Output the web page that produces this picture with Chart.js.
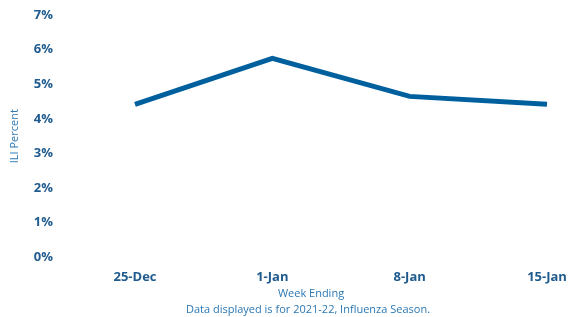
<!DOCTYPE html>
<html>
<head>
<meta charset="utf-8">
<script src="https://cdn.jsdelivr.net/npm/chart.js@4"></script>
<style>
  html, body { margin: 0; padding: 0; background: #fff; }
  #wrap { width: 569px; height: 317px; position: relative; }
</style>
</head>
<body>
<div id="wrap"><canvas id="chart"></canvas></div>
<script>
// ILI percent by week ending, 2021-22 season
const weeks = ['25-Dec', '1-Jan', '8-Jan', '15-Jan'];
const iliPercent = [4.42, 5.75, 4.65, 4.42];
const yTicks = [0, 1, 2, 3, 4, 5, 6, 7];
const xTitle = 'Week Ending';
const footnote = 'Data displayed is for 2021-22, Influenza Season.';

const tickColor = '#1f5b8f';
const titleColor = '#2b78b4';

// draws the x title and footnote under the axis
const bottomText = {
    id: 'bottomText',
    afterDraw(chart) {
        const ctx = chart.ctx;
        ctx.save();
        ctx.fillStyle = titleColor;
        ctx.font = '11px "Open Sans"';
        ctx.textAlign = 'center';
        ctx.textBaseline = 'middle';
        ctx.fillText(xTitle, 311, 294);
        ctx.fillText(footnote, 308, 310);
        ctx.restore();
    }
};

new Chart(document.getElementById('chart'), {
    type: 'line',
    data: {
        labels: weeks,
        datasets: [{
            label: 'ILI Percent',
            data: iliPercent,
            borderColor: '#00609e',
            borderWidth: 5,
            pointRadius: 0,
            tension: 0,
            fill: false
        }]
    },
    options: {
        responsive: true,
        maintainAspectRatio: false,
        animation: false,
        layout: { padding: { top: 15, right: 22, bottom: 20, left: 0 } },
        plugins: {
            legend: { display: false },
            tooltip: { enabled: false }
        },
        scales: {
            x: {
                grid: { display: false, drawTicks: false },
                border: { display: false },
                afterFit: axis => { axis.paddingLeft = 0; axis.paddingRight = 0; },
                ticks: {
                    color: tickColor,
                    font: { family: 'Open Sans', size: 13, weight: 'bold' },
                    padding: 12,
                    maxRotation: 0
                }
            },
            y: {
                min: 0,
                max: 7,
                afterBuildTicks: axis => { axis.ticks = yTicks.map(v => ({ value: v })); },
                afterFit: axis => {
                    axis.width = 135;
                    axis.paddingTop = 0;
                    axis.paddingBottom = 0;
                },
                grid: { display: false, drawTicks: false },
                border: { display: false },
                title: {
                    display: true,
                    text: 'ILI Percent',
                    color: titleColor,
                    font: { family: 'Open Sans', size: 11 },
                    padding: { top: 8, bottom: 0 }
                },
                ticks: {
                    color: tickColor,
                    font: { family: 'Open Sans', size: 13, weight: 'bold' },
                    padding: 82,
                    autoSkip: false,
                    callback: v => v + '%'
                }
            }
        }
    },
    plugins: [bottomText]
});
</script>
</body>
</html>
